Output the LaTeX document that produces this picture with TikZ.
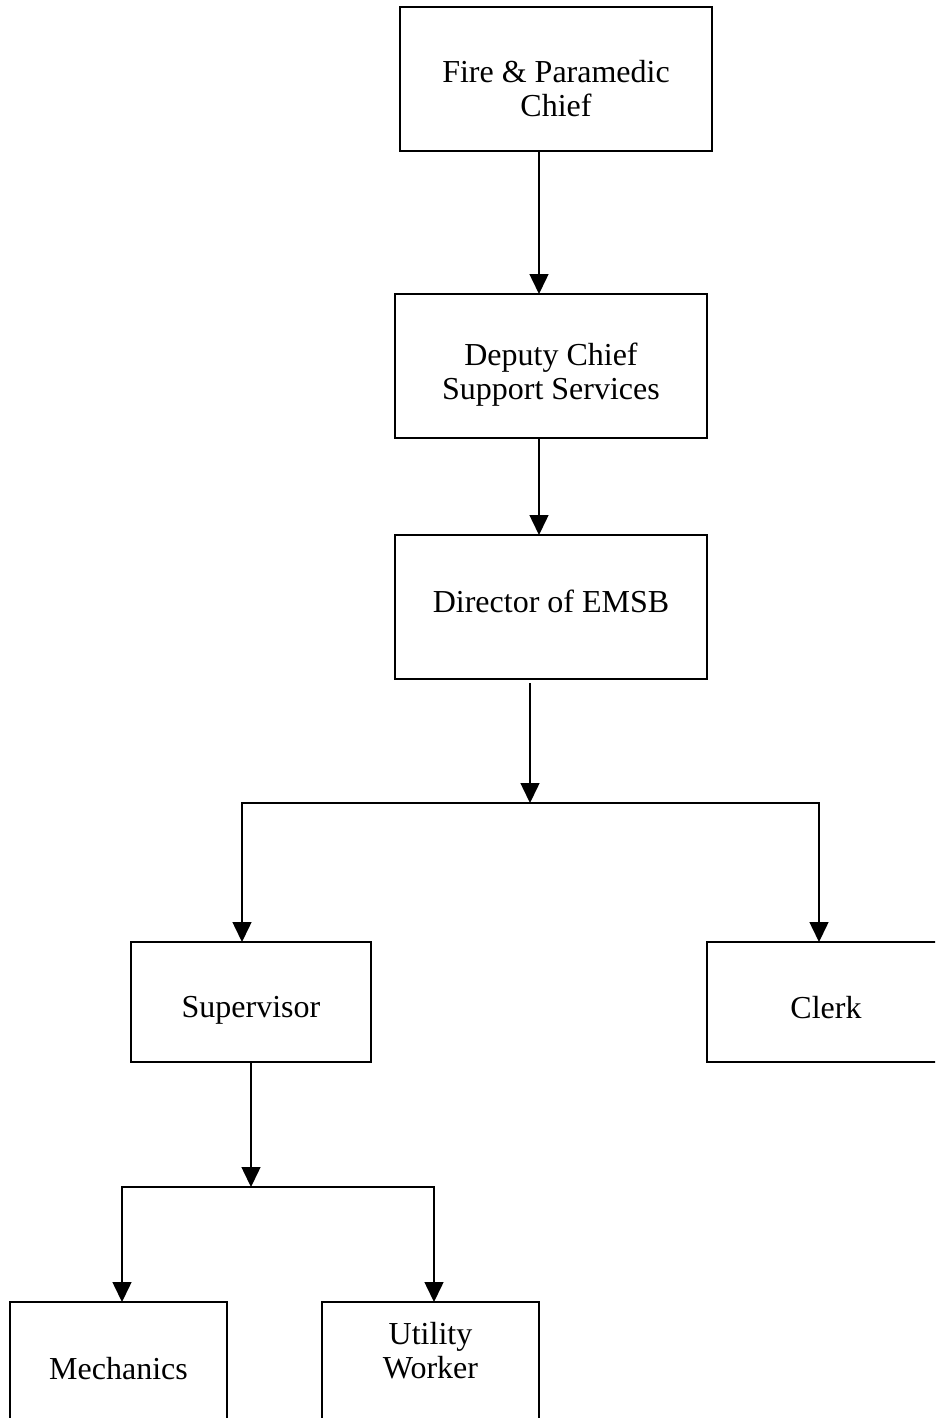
\documentclass[tikz,border=0pt]{standalone}
\usepackage{fontspec}
\setmainfont{Liberation Serif}
\usetikzlibrary{arrows.meta}
\begin{document}
\begin{tikzpicture}[x=1pt,y=-1pt,
  box/.style={draw,line width=1.5pt,inner sep=0pt,outer sep=0pt,minimum width=#1},
  lbl/.style={align=center,inner sep=0pt,font=\fontsize{32}{34}\selectfont},
  conn/.style={line width=1.5pt},
  arr/.style={line width=1.5pt,-{Triangle[width=19pt,length=20pt]}}]
\useasboundingbox (0,0) rectangle (935,1418);
\clip (0,0) rectangle (935,1418);
\fill[white] (0,0) rectangle (935,1418);
% boxes
\node[box=312pt,minimum height=144pt] (fire) at (556,79) {};
\node[box=312pt,minimum height=144pt] (dep) at (551,366) {};
\node[box=312pt,minimum height=144pt] (dir) at (551,607) {};
\node[box=240pt,minimum height=120pt] (sup) at (251,1002) {};
\node[box=240pt,minimum height=120pt] (clerk) at (827,1002) {};
\node[box=217pt,minimum height=140pt] (mech) at (118.5,1372) {};
\node[box=217pt,minimum height=140pt] (util) at (430.5,1372) {};
% labels
\node[lbl] (tfire) at (556,89) {Fire \& Paramedic\\Chief};
\node[lbl] (tdep) at (551,375) {Deputy Chief\\Support Services};
\node[lbl] (tdir) at (551,601) {Director of EMSB};
\node[lbl] (tsup) at (251,1010) {Supervisor};
\node[lbl] (tclerk) at (826,1008) {Clerk};
\node[lbl] (tmech) at (118.5,1369) {Mechanics};
\node[lbl] (tutil) at (430.5,1351) {Utility\\Worker};
% junction coordinates
\coordinate (j1) at (530,803);
\coordinate (j1l) at (242,803);
\coordinate (j1r) at (819,803);
\coordinate (j2) at (251,1187);
\coordinate (j2l) at (122,1187);
\coordinate (j2r) at (434,1187);
% connectors
\draw[arr] ([xshift=-17pt]fire.south) -- ([xshift=-12pt]dep.north);
\draw[arr] ([xshift=-12pt]dep.south) -- ([xshift=-12pt]dir.north);
\draw[arr] ([xshift=-21pt,yshift=-4pt]dir.south) -- (j1);
\draw[conn,line cap=rect] (j1l) -- (j1r);
\draw[arr] (j1l) -- (j1l |- sup.north);
\draw[arr] (j1r) -- (j1r |- clerk.north);
\draw[arr] (sup.south) -- (j2);
\draw[conn,line cap=rect] (j2l) -- (j2r);
\draw[arr] (j2l) -- (j2l |- mech.north);
\draw[arr] (j2r) -- (j2r |- util.north);
\end{tikzpicture}
\end{document}
